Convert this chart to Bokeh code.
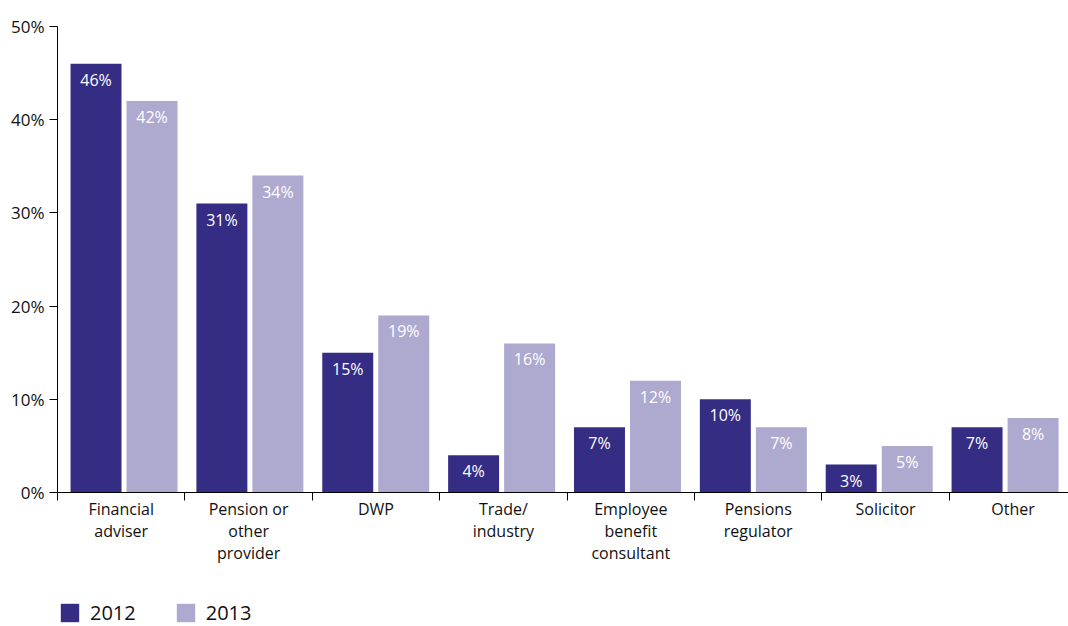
from bokeh.plotting import figure
from bokeh.layouts import column
from bokeh.models import Range1d, LinearAxis, FixedTicker, Legend, LegendItem, ColumnDataSource
from bokeh.core.properties import value
from bokeh.embed import file_html
from bokeh.resources import INLINE

categories = ["Financial\nadviser", "Pension or\nother\nprovider", "DWP", "Trade/\nindustry",
              "Employee\nbenefit\nconsultant", "Pensions\nregulator", "Solicitor", "Other"]
series_names = ["2012", "2013"]
v2012 = [46, 31, 15, 4, 7, 10, 3, 7]
v2013 = [42, 34, 19, 16, 12, 7, 5, 8]
y_ticks = [0, 10, 20, 30, 40, 50]

FONT = "Open Sans"
C2012 = "#352C84"
C2013 = "#ADA9CF"

n = len(categories)
p = figure(frame_width=1011, frame_height=466, output_backend="svg", toolbar_location=None,
           x_axis_type=None, y_range=Range1d(0, 50),
           x_range=Range1d(-0.0286, 8.004),
           min_border_left=57, min_border_right=0, min_border_top=26, min_border_bottom=0)
p.outline_line_color = None
p.ygrid.grid_line_color = None
p.background_fill_color = "white"

off = 0.2225
bw = 0.405
s1 = ColumnDataSource(dict(x=[i + 0.5 - off for i in range(n)], top=v2012, lab=[f"{v}%" for v in v2012]))
s2 = ColumnDataSource(dict(x=[i + 0.5 + off for i in range(n)], top=v2013, lab=[f"{v}%" for v in v2013]))
r1 = p.vbar(x="x", top="top", width=bw, source=s1, fill_color=C2012, line_color=None)
r2 = p.vbar(x="x", top="top", width=bw, source=s2, fill_color=C2013, line_color=None)
for s in (s1, s2):
    p.text(x="x", y="top", text="lab", source=s, text_align="center", text_baseline="top",
           y_offset=5, text_color="white", text_font=value(FONT), text_font_size="16px")

# y axis
ya = p.yaxis[0]
ya.ticker = FixedTicker(ticks=y_ticks)
ya.major_label_overrides = {t: f"{t}%" for t in y_ticks}
ya.minor_tick_line_color = None
ya.major_tick_in = 0
ya.major_tick_out = 8
ya.major_label_standoff = 5
ya.axis_line_color = "black"
ya.major_tick_line_color = "black"
ya.major_label_text_font = FONT
ya.major_label_text_font_size = "17px"
ya.major_label_text_color = "#111111"

# x axes on a category-boundary range
p.extra_x_ranges = {"cats": Range1d(0, 1011 / 127.4)}
xa = LinearAxis(x_range_name="cats", ticker=FixedTicker(ticks=list(range(n))))
xa.major_label_overrides = {i: "" for i in range(n)}
xa.major_label_text_font_size = "0px"
xa.major_label_standoff = 0
xa.minor_tick_line_color = None
xa.major_tick_in = 0
xa.major_tick_out = 8
xa.axis_line_color = "black"
xa.major_tick_line_color = "black"
p.add_layout(xa, "below")

xl = LinearAxis(x_range_name="cats", ticker=FixedTicker(ticks=[i + 0.5 for i in range(n)]))
xl.major_label_overrides = {i + 0.5: c for i, c in enumerate(categories)}
xl.axis_line_color = None
xl.major_tick_line_color = None
xl.minor_tick_line_color = None
xl.major_tick_out = 0
xl.major_tick_in = 0
xl.major_label_standoff = -3
xl.major_label_text_font = FONT
xl.major_label_text_font_size = "16px"
xl.major_label_text_color = "#111111"
xl.major_label_text_line_height = 1.0
p.add_layout(xl, "below")

# legend strip (same series, renderers hidden so only the legend shows)
p2 = figure(width=1068, height=61, output_backend="svg", toolbar_location=None,
            x_axis_type=None, y_axis_type=None, x_range=Range1d(-0.0286, 8.004),
            y_range=Range1d(0, 50), min_border=0)
p2.outline_line_color = None
p2.grid.grid_line_color = None
e1 = p2.vbar(x="x", top="top", width=bw, source=s1, fill_color=C2012, line_color=None, visible=False)
e2 = p2.vbar(x="x", top="top", width=bw, source=s2, fill_color=C2013, line_color=None, visible=False)
leg = Legend(items=[LegendItem(label=series_names[0], renderers=[e1]),
                    LegendItem(label=series_names[1], renderers=[e2])],
             orientation="horizontal", location=(1, 1),
             glyph_width=23, glyph_height=23, label_standoff=9, spacing=38,
             label_text_font=FONT, label_text_font_size="20px", label_text_color="#111111",
             inactive_fill_alpha=0,
             border_line_color=None, background_fill_alpha=0, padding=0, margin=0)
p2.add_layout(leg, "center")

open("out.html", "w").write(file_html(column(p, p2, spacing=0), INLINE))
